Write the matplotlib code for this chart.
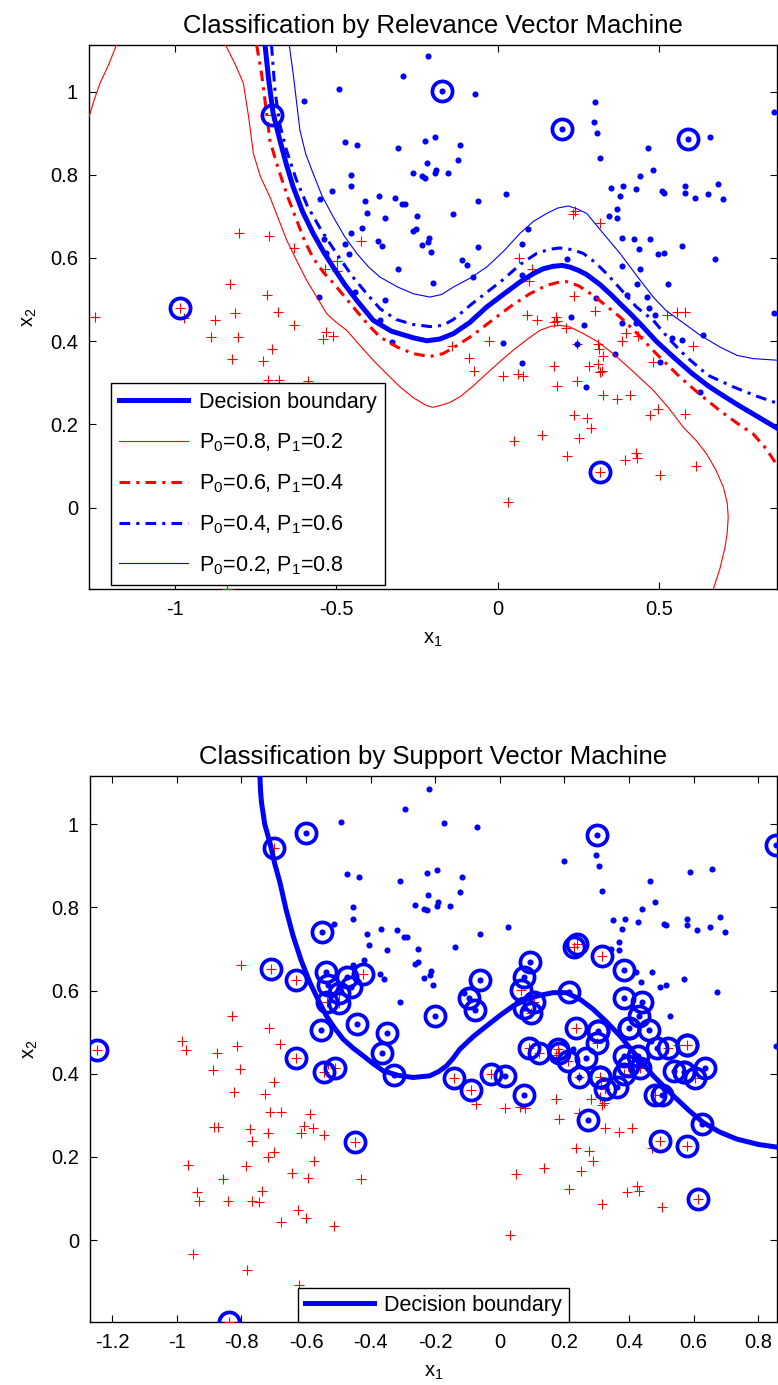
import numpy as np
import matplotlib
matplotlib.use("Agg")
import matplotlib.pyplot as plt
from matplotlib.ticker import FormatStrFormatter

plt.rcParams.update({
    "font.family": ["Liberation Sans", "DejaVu Sans"],
    "mathtext.default": "regular",
    "axes.unicode_minus": True,
})

# ---------------------------------------------------------------
# data (same training set in both panels)
# ---------------------------------------------------------------
blue_x = [-0.218, -0.293, -0.493, -0.600, -0.472, -0.437, -0.309, -0.226, -0.195, -0.221,
          -0.262, -0.236, -0.226, -0.456, -0.455, -0.513, -0.550, -0.411, -0.369, -0.319,
          -0.298, -0.288, -0.406, -0.351, -0.252, -0.262, -0.254, -0.422, -0.456, -0.538,
          -0.533, -0.472, -0.462, -0.370, -0.360, -0.236, -0.212, -0.216, -0.207, -0.309,
          -0.553, -0.442, -0.350, -0.365, -0.329, -0.174, -0.071, 0.199, 0.302, 0.297,
          0.307, 0.317, 0.589, 0.656, 0.855, 0.465, 0.481, 0.440, 0.349, 0.388,
          0.429, 0.379, 0.507, 0.514, 0.579, 0.579, 0.610, 0.651, 0.682, 0.698,
          0.369, 0.344, 0.369, 0.384, 0.421, 0.471, 0.436, 0.497, 0.513, 0.569,
          0.672, 0.384, 0.441, 0.430, 0.527, 0.399, 0.461, 0.467, 0.487, 0.855,
          -0.118, -0.123, -0.192, -0.195, -0.154, 0.025, -0.062, -0.138, -0.062, 0.092,
          0.076, -0.112, -0.097, -0.078, -0.200, 0.215, 0.076, 0.225, 0.305, 0.266,
          0.383, 0.429, 0.538, 0.569, 0.636, 0.015, 0.076, 0.246, 0.364, 0.272,
          0.502, 0.625]
blue_y = [1.085, 1.037, 1.006, 0.978, 0.880, 0.872, 0.864, 0.882, 0.890, 0.829,
          0.805, 0.796, 0.793, 0.800, 0.772, 0.761, 0.741, 0.737, 0.749, 0.745,
          0.729, 0.729, 0.709, 0.697, 0.701, 0.665, 0.669, 0.673, 0.661, 0.645,
          0.613, 0.633, 0.609, 0.641, 0.629, 0.630, 0.647, 0.638, 0.614, 0.573,
          0.506, 0.519, 0.499, 0.451, 0.397, 1.002, 0.994, 0.911, 0.974, 0.926,
          0.900, 0.840, 0.886, 0.892, 0.951, 0.864, 0.812, 0.796, 0.769, 0.773,
          0.765, 0.749, 0.761, 0.757, 0.773, 0.757, 0.745, 0.753, 0.777, 0.741,
          0.717, 0.701, 0.697, 0.649, 0.645, 0.645, 0.621, 0.609, 0.613, 0.629,
          0.597, 0.581, 0.573, 0.538, 0.538, 0.510, 0.506, 0.479, 0.463, 0.467,
          0.872, 0.836, 0.812, 0.804, 0.804, 0.753, 0.737, 0.705, 0.626, 0.669,
          0.633, 0.595, 0.583, 0.554, 0.539, 0.597, 0.559, 0.459, 0.503, 0.439,
          0.443, 0.443, 0.407, 0.403, 0.415, 0.395, 0.348, 0.392, 0.368, 0.289,
          0.349, 0.278]

red_x = [-0.698, -0.801, -0.708, -0.631, -0.424, -0.499, -0.536, -0.499, -0.830, -0.714,
         -0.985, -0.681, -0.813, -1.248, -0.876, -0.972, -0.631, -0.887, -0.804, -0.699,
         -0.824, -0.728, -0.533, -0.543, -0.512, -0.713, -0.677, -0.589, -0.840, -0.884,
         -0.872, -0.774, -0.769, -0.717, -0.607, -0.580, -0.616, -0.545, -0.448, -0.699,
         -0.719, -0.967, -0.787, -0.575, -0.645, -0.595, -0.431, -0.857, -0.937, -0.931,
         -0.735, -0.841, -0.769, -0.746, -0.624, -0.599, -0.679, -0.514, -0.950, -0.782,
         -0.622, 0.231, 0.238, 0.317, 0.066, 0.107, 0.097, 0.235, 0.302, 0.091,
         0.179, 0.522, 0.553, 0.579, 0.120, 0.173, 0.182, 0.210, 0.398, 0.434,
         0.384, -0.143, -0.027, -0.089, -0.073, 0.015, 0.063, 0.078, 0.173, 0.184,
         0.244, 0.246, 0.311, 0.313, 0.324, 0.283, 0.311, 0.316, 0.321, 0.481,
         0.605, 0.326, 0.369, 0.409, 0.496, 0.471, 0.579, 0.235, 0.277, 0.287,
         0.138, 0.050, 0.251, 0.215, 0.393, 0.426, 0.431, 0.317, 0.502, 0.613,
         0.030]
red_y = [0.943, 0.661, 0.653, 0.625, 0.641, 0.593, 0.573, 0.569, 0.538, 0.511,
         0.479, 0.471, 0.467, 0.457, 0.451, 0.456, 0.439, 0.409, 0.411, 0.380,
         0.356, 0.352, 0.423, 0.405, 0.413, 0.307, 0.307, 0.304, -0.197, 0.273,
         0.273, 0.266, 0.239, 0.257, 0.274, 0.269, 0.257, 0.253, 0.235, 0.211,
         0.199, 0.181, 0.177, 0.189, 0.161, 0.149, 0.147, 0.147, 0.115, 0.095,
         0.119, 0.095, 0.095, 0.092, 0.073, 0.053, 0.043, 0.035, -0.034, -0.072,
         -0.108, 0.706, 0.712, 0.684, 0.601, 0.573, 0.545, 0.509, 0.473, 0.463,
         0.459, 0.463, 0.469, 0.469, 0.451, 0.446, 0.449, 0.431, 0.419, 0.413,
         0.400, 0.389, 0.400, 0.360, 0.328, 0.317, 0.320, 0.317, 0.340, 0.292,
         0.305, 0.392, 0.392, 0.382, 0.364, 0.340, 0.345, 0.326, 0.329, 0.349,
         0.389, 0.270, 0.261, 0.270, 0.238, 0.222, 0.226, 0.222, 0.215, 0.191,
         0.174, 0.159, 0.167, 0.123, 0.115, 0.131, 0.119, 0.086, 0.079, 0.099,
         0.013]

# relevance vectors (RVM) and support vectors (SVM), as read
rv_x = [-0.698, -0.985, -0.174, 0.199, 0.589, 0.317]
rv_y = [0.943, 0.479, 1.002, 0.911, 0.886, 0.086]

sv_x = [-0.702, -0.601, -0.545, -0.704, -0.629, -0.542, -0.537, -0.470, -0.462, -0.428,
        -0.506, -0.537, -0.506, -0.557, -0.444, -0.348, -0.210, -0.366, -0.629, -1.243,
        -0.542, -0.516, -0.330, -0.448, -0.841, 0.304, 0.851, 0.231, 0.238, 0.318,
        0.384, 0.093, 0.077, 0.067, -0.062, -0.103, -0.075, 0.215, 0.103, 0.080,
        0.093, 0.384, 0.444, 0.318, 0.428, 0.237, 0.310, 0.372, 0.397, 0.464,
        -0.139, -0.088, -0.028, 0.013, 0.077, 0.093, 0.119, 0.176, 0.186, 0.217,
        0.265, 0.304, 0.248, 0.310, 0.318, 0.320, 0.368, 0.382, 0.397, 0.384,
        0.428, 0.439, 0.475, 0.508, 0.490, 0.521, 0.537, 0.568, 0.588, 0.609,
        0.635, 0.568, 0.583, 0.266, 0.627, 0.498, 0.583, 0.617]
sv_y = [0.958, 0.992, 0.747, 0.658, 0.631, 0.658, 0.620, 0.642, 0.618, 0.647,
        0.606, 0.582, 0.574, 0.514, 0.522, 0.506, 0.544, 0.466, 0.462, 0.466,
        0.416, 0.428, 0.400, 0.235, -0.193, 0.980, 0.962, 0.706, 0.712, 0.692,
        0.655, 0.674, 0.640, 0.608, 0.632, 0.590, 0.559, 0.606, 0.582, 0.562,
        0.550, 0.585, 0.582, 0.535, 0.545, 0.516, 0.510, 0.506, 0.518, 0.514,
        0.394, 0.368, 0.406, 0.402, 0.357, 0.466, 0.450, 0.458, 0.450, 0.442,
        0.446, 0.474, 0.392, 0.402, 0.392, 0.367, 0.372, 0.450, 0.434, 0.402,
        0.446, 0.414, 0.360, 0.356, 0.476, 0.472, 0.414, 0.414, 0.406, 0.394,
        0.424, 0.476, 0.476, 0.296, 0.285, 0.242, 0.231, 0.103]

# RVM contours
db_x = [-0.721, -0.710, -0.696, -0.675, -0.655, -0.634, -0.605, -0.572, -0.540, -0.510,
        -0.475, -0.437, -0.386, -0.330, -0.262, -0.220, -0.180, -0.138, -0.087, -0.035,
        0.016, 0.068, 0.109, 0.140, 0.171, 0.200, 0.223, 0.250, 0.275, 0.316,
        0.350, 0.378, 0.410, 0.440, 0.490, 0.543, 0.600, 0.650, 0.687, 0.740,
        0.790, 0.868]
db_y = [1.112, 1.030, 0.948, 0.883, 0.825, 0.771, 0.712, 0.659, 0.615, 0.578,
        0.537, 0.498, 0.450, 0.424, 0.408, 0.401, 0.405, 0.418, 0.445, 0.482,
        0.512, 0.542, 0.562, 0.574, 0.580, 0.582, 0.578, 0.570, 0.560, 0.536,
        0.512, 0.490, 0.466, 0.442, 0.400, 0.362, 0.323, 0.293, 0.274, 0.248,
        0.225, 0.189]

p08a_x = [-0.843, -0.810, -0.788, -0.772, -0.757, -0.735, -0.706, -0.680, -0.654, -0.622,
          -0.592, -0.560, -0.530, -0.500, -0.468, -0.430, -0.386, -0.345, -0.303, -0.262,
          -0.221, -0.200, -0.180, -0.150, -0.118, -0.080, -0.035, 0.005, 0.047, 0.090,
          0.130, 0.165, 0.192, 0.223, 0.260, 0.310, 0.357, 0.420, 0.481, 0.530,
          0.574, 0.615, 0.646, 0.675, 0.698, 0.710, 0.713, 0.710, 0.703, 0.688,
          0.667]
p08a_y = [1.112, 1.060, 1.020, 0.940, 0.851, 0.795, 0.747, 0.695, 0.643, 0.592,
          0.546, 0.505, 0.466, 0.445, 0.426, 0.392, 0.354, 0.322, 0.290, 0.264,
          0.245, 0.241, 0.245, 0.252, 0.266, 0.290, 0.322, 0.350, 0.378, 0.404,
          0.426, 0.436, 0.438, 0.434, 0.420, 0.398, 0.370, 0.326, 0.282, 0.238,
          0.193, 0.160, 0.129, 0.090, 0.049, 0.010, -0.023, -0.060, -0.096, -0.145,
          -0.196]
p08b_x = [-1.181, -1.205, -1.232, -1.250, -1.266]
p08b_y = [1.112, 1.065, 1.020, 0.980, 0.939]

p06_x = [-0.747, -0.732, -0.718, -0.706, -0.690, -0.675, -0.650, -0.623, -0.598, -0.572,
         -0.540, -0.510, -0.448, -0.400, -0.365, -0.310, -0.262, -0.211, -0.170, -0.138,
         -0.080, -0.025, 0.040, 0.099, 0.150, 0.190, 0.213, 0.250, 0.295, 0.340,
         0.378, 0.419, 0.490, 0.563, 0.625, 0.687, 0.740, 0.790, 0.830, 0.868]
p06_y = [1.112, 1.044, 0.960, 0.883, 0.840, 0.803, 0.745, 0.691, 0.640, 0.600,
         0.565, 0.540, 0.482, 0.438, 0.410, 0.385, 0.370, 0.363, 0.370, 0.384,
         0.413, 0.446, 0.484, 0.514, 0.534, 0.542, 0.543, 0.533, 0.510, 0.482,
         0.458, 0.428, 0.370, 0.314, 0.272, 0.233, 0.203, 0.177, 0.142, 0.097]

p04_x = [-0.701, -0.690, -0.675, -0.655, -0.625, -0.590, -0.548, -0.500, -0.450, -0.406,
         -0.365, -0.315, -0.262, -0.210, -0.170, -0.138, -0.080, -0.030, 0.016, 0.070,
         0.120, 0.160, 0.192, 0.230, 0.264, 0.300, 0.337, 0.380, 0.429, 0.481,
         0.530, 0.584, 0.650, 0.729, 0.800, 0.868]
p04_y = [1.112, 1.000, 0.920, 0.860, 0.790, 0.725, 0.668, 0.611, 0.555, 0.514,
         0.478, 0.452, 0.440, 0.435, 0.438, 0.452, 0.490, 0.520, 0.548, 0.585,
         0.611, 0.621, 0.624, 0.620, 0.611, 0.590, 0.562, 0.525, 0.482, 0.450,
         0.405, 0.362, 0.318, 0.290, 0.268, 0.250]

p02_x = [-0.646, -0.634, -0.613, -0.595, -0.572, -0.545, -0.510, -0.475, -0.437, -0.400,
         -0.365, -0.310, -0.262, -0.211, -0.175, -0.138, -0.085, -0.035, 0.020, 0.068,
         0.110, 0.151, 0.185, 0.218, 0.245, 0.275, 0.325, 0.378, 0.430, 0.481,
         0.520, 0.563, 0.625, 0.687, 0.740, 0.790, 0.868]
p02_y = [1.112, 1.044, 0.907, 0.850, 0.803, 0.750, 0.699, 0.652, 0.611, 0.578,
         0.554, 0.530, 0.514, 0.506, 0.512, 0.530, 0.552, 0.578, 0.618, 0.659,
         0.688, 0.707, 0.720, 0.725, 0.718, 0.707, 0.660, 0.611, 0.557, 0.506,
         0.474, 0.450, 0.415, 0.386, 0.366, 0.358, 0.354]

# SVM decision boundary
svm_x = [-0.743, -0.741, -0.738, -0.728, -0.712, -0.697, -0.681, -0.662, -0.640, -0.615,
         -0.588, -0.562, -0.537, -0.512, -0.485, -0.455, -0.423, -0.392, -0.361, -0.315,
         -0.268, -0.217, -0.190, -0.165, -0.145, -0.124, -0.083, -0.041, 0.000, 0.041,
         0.080, 0.120, 0.165, 0.206, 0.250, 0.289, 0.330, 0.372, 0.420, 0.475,
         0.537, 0.585, 0.629, 0.680, 0.733, 0.800, 0.862]
svm_y = [1.116, 1.080, 1.052, 1.000, 0.956, 0.905, 0.860, 0.795, 0.731, 0.672,
         0.619, 0.577, 0.539, 0.510, 0.483, 0.462, 0.443, 0.424, 0.407, 0.396,
         0.391, 0.395, 0.405, 0.419, 0.437, 0.459, 0.489, 0.515, 0.540, 0.563,
         0.578, 0.588, 0.595, 0.595, 0.578, 0.555, 0.525, 0.491, 0.446, 0.395,
         0.347, 0.312, 0.283, 0.260, 0.243, 0.230, 0.223]

legend_labels = ["Decision boundary", "P$_0$=0.8, P$_1$=0.2", "P$_0$=0.6, P$_1$=0.4",
                 "P$_0$=0.4, P$_1$=0.6", "P$_0$=0.2, P$_1$=0.8"]

# ---------------------------------------------------------------
FS = 14.5
DASHDOT = (0, (3.5, 2.0, 1.0, 2.0))


def style_axes(ax, xlim, ylim, xticks):
    ax.set_xlim(xlim)
    ax.set_ylim(ylim)
    ax.set_xticks(xticks)
    ax.set_yticks([0, 0.2, 0.4, 0.6, 0.8, 1.0])
    ax.xaxis.set_major_formatter(FormatStrFormatter("%g"))
    ax.yaxis.set_major_formatter(FormatStrFormatter("%g"))
    ax.tick_params(direction="in", length=5, width=0.8, top=True, right=True,
                   labelsize=FS, pad=8)
    for s in ax.spines.values():
        s.set_linewidth(1.0)
    ax.set_xlabel("x$_1$", fontsize=FS, labelpad=8)
    ax.set_ylabel("x$_2$", fontsize=FS, labelpad=8)


def draw_points(ax):
    ax.plot(red_x, red_y, "+", color="red", ms=6.5, mew=0.8, zorder=3)
    ax.plot(blue_x, blue_y, "o", color="blue", ms=4.4, mew=0, zorder=3)


fig = plt.figure(figsize=(7.78, 13.85), dpi=100)

# ---------------- RVM ----------------
ax1 = fig.add_axes([0.1144, 0.5747, 0.8843, 0.3928])
draw_points(ax1)
h_db, = ax1.plot(db_x, db_y, "-", color="blue", lw=3.6, zorder=4)
h08, = ax1.plot(p08a_x, p08a_y, "-", color="red", lw=0.8, zorder=4)
ax1.plot(p08b_x, p08b_y, "-", color="red", lw=0.8, zorder=4)
h06, = ax1.plot(p06_x, p06_y, color="red", lw=2.2, ls=DASHDOT, zorder=4)
h04, = ax1.plot(p04_x, p04_y, color="blue", lw=2.2, ls=DASHDOT, zorder=4)
h02, = ax1.plot(p02_x, p02_y, "-", color="blue", lw=0.8, zorder=4)
ax1.plot(rv_x, rv_y, "o", mfc="none", mec="blue", ms=14.5, mew=2.7, zorder=5)
style_axes(ax1, (-1.266, 0.864), (-0.196, 1.112), [-1, -0.5, 0, 0.5])
ax1.set_title("Classification by Relevance Vector Machine", fontsize=18.5, pad=9)
leg1 = ax1.legend([h_db, h08, h06, h04, h02], legend_labels, loc="lower left",
                  bbox_to_anchor=(0.0315, 0.007), borderaxespad=0, fontsize=15.5,
                  frameon=True, fancybox=False, edgecolor="black", framealpha=1,
                  handlelength=3.2, labelspacing=0.85, handletextpad=0.5,
                  borderpad=0.4)
leg1.get_frame().set_linewidth(1.0)
leg1.set_zorder(10)

# ---------------- SVM ----------------
ax2 = fig.add_axes([0.1157, 0.0455, 0.8830, 0.3942])
draw_points(ax2)
h_svm, = ax2.plot(svm_x, svm_y, "-", color="blue", lw=3.6, zorder=4)
# circle each support vector on the nearest data point
all_x = np.array(red_x + blue_x)
all_y = np.array(red_y + blue_y)
cx, cy = [], []
for sx, sy in zip(sv_x, sv_y):
    k = np.argmin((all_x - sx) ** 2 + (all_y - sy) ** 2)
    cx.append(all_x[k])
    cy.append(all_y[k])
ax2.plot(cx, cy, "o", mfc="none", mec="blue", ms=14.5, mew=2.7, zorder=5)
style_axes(ax2, (-1.269, 0.858), (-0.197, 1.116),
           [-1.2, -1, -0.8, -0.6, -0.4, -0.2, 0, 0.2, 0.4, 0.6, 0.8])
ax2.set_title("Classification by Support Vector Machine", fontsize=18.5, pad=9)
leg2 = ax2.legend([h_svm], ["Decision boundary"], loc="lower center",
                  bbox_to_anchor=(0.5, 0.0), borderaxespad=0, fontsize=15.5,
                  frameon=True, fancybox=False, edgecolor="black", framealpha=1,
                  handlelength=3.2, handletextpad=0.5, borderpad=0.3)
leg2.get_frame().set_linewidth(1.0)
leg2.set_zorder(10)

fig.savefig("out.png", dpi=100)
